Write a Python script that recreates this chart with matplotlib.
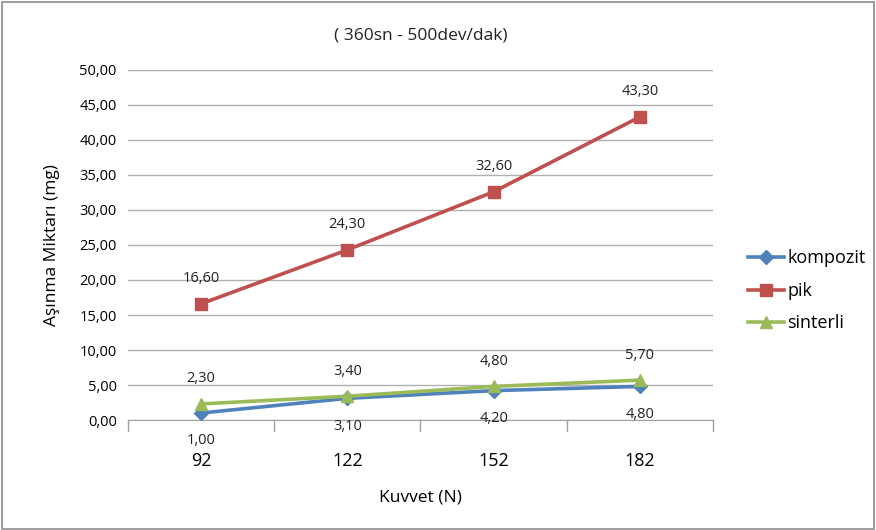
import matplotlib
matplotlib.use("Agg")
import matplotlib.pyplot as plt
from matplotlib.patches import Rectangle

categories = ["92", "122", "152", "182"]
kompozit = [1.00, 3.10, 4.20, 4.80]
pik = [16.60, 24.30, 32.60, 43.30]
sinterli = [2.30, 3.40, 4.80, 5.70]
yticks = [0, 5, 10, 15, 20, 25, 30, 35, 40, 45, 50]

plt.rcParams['font.family'] = ['Open Sans', 'DejaVu Sans']

fig = plt.figure(figsize=(8.76, 5.30), dpi=100)
fig.patches.append(Rectangle((0.002, 0.002), 0.996, 0.994, transform=fig.transFigure,
                             fill=False, edgecolor='#8c8c8c', linewidth=1.2))
ax = fig.add_axes([0.146, 0.2075, 0.668, 0.6605])

x = list(range(len(categories)))
series = [
    ("kompozit", kompozit, '#4F81BD', 'D', 7, 'below'),
    ("pik", pik, '#C0504D', 's', 8, 'above'),
    ("sinterli", sinterli, '#9BBB59', '^', 8.5, 'above'),
]
for name, vals, col, mk, ms, pos in series:
    ax.plot(x, vals, color=col, linewidth=2.6, marker=mk, markersize=ms, label=name, zorder=3)
    for xi, v in zip(x, vals):
        lab = f"{v:.2f}".replace('.', ',')
        dy = 18 if pos == 'above' else -20
        ax.annotate(lab, (xi, v), xytext=(0, dy), textcoords='offset points',
                    ha='center', va='center', fontsize=10.5, color='#222222')

ax.set_xlim(-0.5, len(categories) - 0.5)
ax.set_ylim(0, 50)
ax.set_yticks(yticks)
ax.set_yticklabels([f"{t:.2f}".replace('.', ',') for t in yticks], fontsize=10.5)
ax.set_xticks(x)
ax.set_xticklabels(categories, fontsize=13)
ax.tick_params(axis='x', length=0, pad=23)
ax.tick_params(axis='y', length=0, pad=8)
# boundary tick marks
for b in [-0.5, 0.5, 1.5, 2.5, 3.5]:
    ax.plot([b, b], [0, -0.03], transform=ax.get_xaxis_transform(), color='#a0a0a0',
            linewidth=1, clip_on=False)

ax.grid(axis='y', color='#b0b0b0', linewidth=1)
ax.set_axisbelow(True)
for s in ['top', 'right', 'left']:
    ax.spines[s].set_visible(False)
ax.spines['bottom'].set_color('#a0a0a0')

ax.set_title("( 360sn - 500dev/dak)", fontsize=12.5, pad=22, color='#222222')
ax.set_ylabel("Aşınma Miktarı (mg)", fontsize=12.5, labelpad=14)
ax.set_xlabel("Kuvvet (N)", fontsize=12.5, labelpad=14)

leg = fig.legend(loc='upper left', bbox_to_anchor=(0.835, 0.56), frameon=False,
                 fontsize=13, handlelength=2.0, labelspacing=0.8, handletextpad=0.2)

fig.savefig("out.png", dpi=100)
